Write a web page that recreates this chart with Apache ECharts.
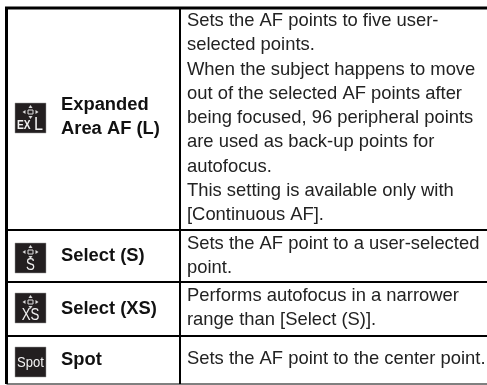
<!DOCTYPE html>
<html>
<head>
<meta charset="utf-8">
<style>
html, body { margin: 0; padding: 0; background: #fff; }
#main { width: 487px; height: 385px; }
</style>
<script src="https://cdn.jsdelivr.net/npm/echarts@6/dist/echarts.min.js"></script>
</head>
<body>
<div id="main"></div>
<script>
// table content
var iconLabels = ['L', 'S', 'XS', 'Spot'];
var modeNames = [
    ['Expanded', 'Area AF (L)'],
    ['Select (S)'],
    ['Select (XS)'],
    ['Spot']
];
var descriptions = [
    ['Sets the AF points to five user-', 'selected points.', 'When the subject happens to move', 'out of the selected AF points after',
     'being focused, 96 peripheral points', 'are used as back-up points for', 'autofocus.', 'This setting is available only with', '[Continuous AF].'],
    ['Sets the AF point to a user-selected', 'point.'],
    ['Performs autofocus in a narrower', 'range than [Select (S)].'],
    ['Sets the AF point to the center point.']
];

// layout, in pixels
var rowLines = [8, 230, 282, 336];
var bottomY = 384;
var leftX = 6.5, dividerX = 180, rightX = 487;
var iconX = 15, iconW = 31, iconH = 30;
var iconY = [103, 243, 293, 347];
var nameX = 61, descX = 187;
var nameMidY = [117, 256, 309, 360];
var descTop = [21, 244, 296, 359];
var lineStep = 24.25;
var font = '"Liberation Sans", Arial, sans-serif';

function rule(x1, y1, x2, y2, w) {
    return { type: 'line', silent: true, shape: { x1: x1, y1: y1, x2: x2, y2: y2 }, style: { stroke: '#000', lineWidth: w } };
}

function label(x, y, text, size, weight, color, align, squeeze) {
    return {
        type: 'text', silent: true, x: x, y: y, scaleX: squeeze || 1,
        style: { text: text, font: (weight || 'normal') + ' ' + size + 'px ' + font, fill: color || '#111', align: align || 'left', verticalAlign: 'middle' }
    };
}

function arrow(points) {
    return { type: 'polygon', silent: true, shape: { points: points }, style: { fill: '#ddd' } };
}

// the focus point mark on top of the icon, a small box with four arrows
function focusMark(cx, cy) {
    return [
        { type: 'rect', silent: true, shape: { x: cx - 2.5, y: cy - 2, width: 5, height: 4 }, style: { fill: 'none', stroke: '#ddd', lineWidth: 1 } },
        arrow([[cx - 8, cy], [cx - 5, cy - 2], [cx - 5, cy + 2]]),
        arrow([[cx + 8, cy], [cx + 5, cy - 2], [cx + 5, cy + 2]]),
        arrow([[cx, cy - 7], [cx - 2, cy - 4], [cx + 2, cy - 4]]),
        arrow([[cx, cy + 7], [cx - 2, cy + 4], [cx + 2, cy + 4]])
    ];
}

var elements = [];

rowLines.forEach(function (y, i) {
    elements.push(rule(leftX - 1.5, y, rightX, y, i === 0 ? 3 : 2));
});
elements.push(rule(leftX, 8, leftX, bottomY, 3));
elements.push(rule(dividerX, 8, dividerX, bottomY, 2));
elements.push(rule(leftX, bottomY, rightX, bottomY, 1));

iconLabels.forEach(function (txt, i) {
    var y = iconY[i];
    var cx = iconX + iconW / 2;
    elements.push({ type: 'rect', silent: true, shape: { x: iconX, y: y, width: iconW, height: iconH }, style: { fill: '#231f20', stroke: '#999', lineWidth: 0.5 } });
    if (txt === 'Spot') {
        elements.push(label(cx, y + iconH / 2 + 1, txt, 15, 'normal', '#f2f2f2', 'center', 0.87));
    } else if (txt === 'L') {
        elements = elements.concat(focusMark(cx, y + 9));
        elements.push(label(iconX + 2, y + 23, 'EX', 12, 'bold', '#f2f2f2', 'left', 0.85));
        elements.push(label(iconX + 19, y + 22, 'L', 19, 'normal', '#f2f2f2', 'left', 0.85));
    } else {
        elements = elements.concat(focusMark(cx, y + 9));
        elements.push(label(cx, y + 22, txt, 17, 'normal', '#f2f2f2', 'center', 0.78));
    }
});

modeNames.forEach(function (lines, i) {
    var top = nameMidY[i] - (lines.length - 1) * 12;
    lines.forEach(function (txt, j) {
        elements.push(label(nameX, top + j * 24, txt, 18.35, 'bold', '#111'));
    });
});

descriptions.forEach(function (lines, i) {
    lines.forEach(function (txt, j) {
        elements.push(label(descX, descTop[i] + j * lineStep, txt, 18.4, 'normal', '#222'));
    });
});

var chart = echarts.init(document.getElementById('main'), null, { renderer: 'canvas' });
chart.setOption({
    animation: false,
    backgroundColor: '#fff',
    graphic: { elements: elements }
});
</script>
</body>
</html>
